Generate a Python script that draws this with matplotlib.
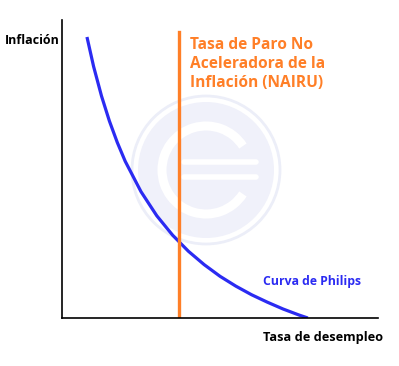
import matplotlib.pyplot as plt
from matplotlib.patches import Circle, Arc

# curva de Phillips (ejes 0-10)
desempleo = [0.79, 1.0, 1.25, 1.5, 1.75, 2.0, 2.5, 3.0, 3.5, 4.0, 4.5, 5.0, 5.5, 6.0, 6.5, 7.0, 7.5, 7.78]
inflacion = [9.43, 8.44, 7.45, 6.61, 5.89, 5.26, 4.24, 3.43, 2.78, 2.24, 1.79, 1.40, 1.07, 0.78, 0.53, 0.30, 0.10, 0.0]
nairu_x = 3.69
nairu_top = 9.6

naranja = "#ff7f27"
azul = "#2b2bf2"
fuente = "Open Sans"

fig = plt.figure(figsize=(3.99, 3.66), dpi=100)

# marca de agua de fondo (coordenadas en píxeles)
bg = fig.add_axes([0, 0, 1, 1], zorder=0)
bg.set_xlim(0, 399)
bg.set_ylim(366, 0)
bg.set_aspect("equal")
bg.axis("off")
bg.add_patch(Circle((206, 170), 74, facecolor="white", edgecolor="#eceef8", lw=2))
bg.add_patch(Circle((206, 170), 68, facecolor="#f0f1fa", edgecolor="none"))
bg.add_patch(Arc((206, 170), 88, 88, theta1=33, theta2=327, color="white", lw=6.5))
bg.plot([184, 256], [162, 162], color="white", lw=4, solid_capstyle="round")
bg.plot([184, 256], [177, 177], color="white", lw=4, solid_capstyle="round")

ax = fig.add_axes([62 / 399, 48 / 366, 316 / 399, 298 / 366], zorder=1)
ax.patch.set_alpha(0)
ax.set_xlim(0, 10)
ax.set_ylim(0, 10)
ax.plot(desempleo, inflacion, color=azul, lw=2.3, solid_capstyle="butt")
ax.plot([nairu_x, nairu_x], [0, nairu_top], color=naranja, lw=2.4)
for s in ["top", "right"]:
    ax.spines[s].set_visible(False)
for s in ["left", "bottom"]:
    ax.spines[s].set_linewidth(1.2)
ax.set_xticks([])
ax.set_yticks([])

fig.text(5 / 399, 1 - 40 / 366, "Inflación", fontsize=9, fontweight="bold",
         family=fuente, va="center", ha="left")
fig.text(190 / 399, 1 - 64 / 366, "Tasa de Paro No\nAceleradora de la\nInflación (NAIRU)",
         fontsize=11.2, fontweight="bold", family=fuente, color=naranja,
         va="center", ha="left", linespacing=1.27)
fig.text(263 / 399, 1 - 282 / 366, "Curva de Philips", fontsize=8.8, fontweight="bold",
         family=fuente, color=azul, va="center", ha="left")
fig.text(263 / 399, 1 - 337 / 366, "Tasa de desempleo", fontsize=9.2, fontweight="bold",
         family=fuente, va="center", ha="left")

fig.savefig("out.png", dpi=100)
